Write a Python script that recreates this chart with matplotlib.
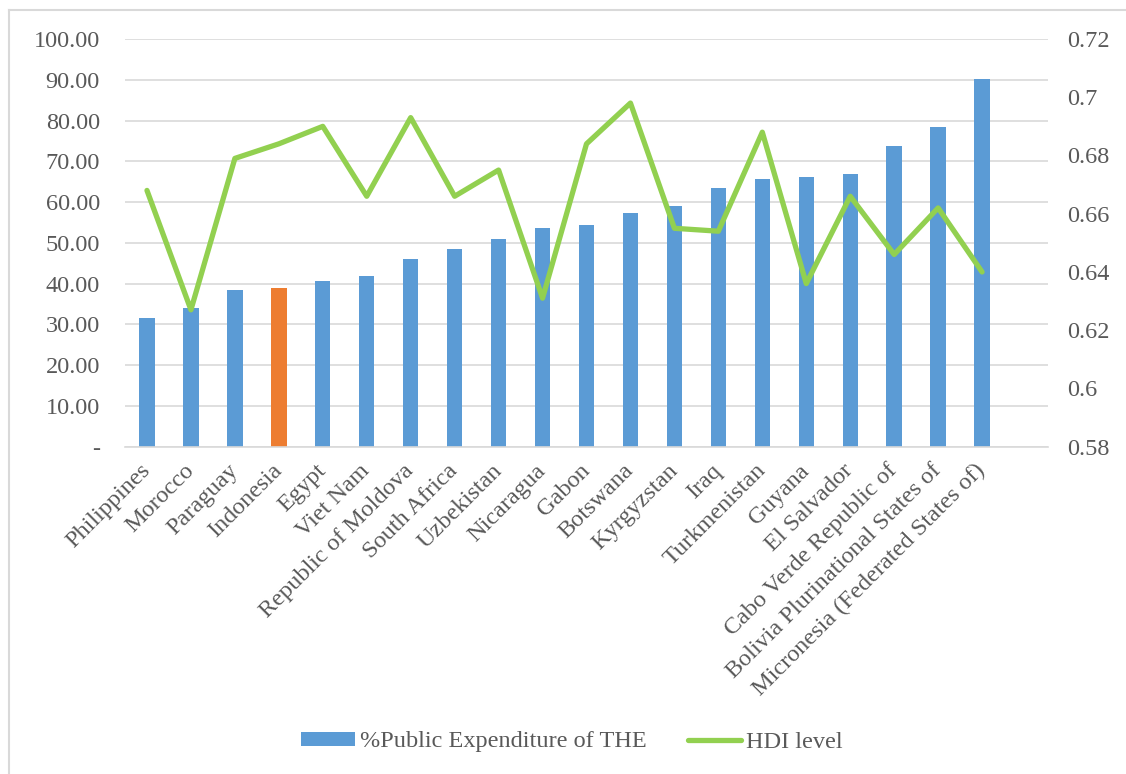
import matplotlib
matplotlib.use('Agg')
import matplotlib.pyplot as plt
from matplotlib.lines import Line2D
import numpy as np

plt.rcParams['font.family'] = ['Liberation Serif', 'DejaVu Serif']

countries = ['Philippines', 'Morocco', 'Paraguay', 'Indonesia', 'Egypt', 'Viet Nam',
             'Republic of Moldova', 'South Africa', 'Uzbekistan', 'Nicaragua', 'Gabon',
             'Botswana', 'Kyrgyzstan', 'Iraq', 'Turkmenistan', 'Guyana', 'El Salvador',
             'Cabo Verde Republic of', 'Bolivia Plurinational States of',
             'Micronesia (Federated States of)']
public_exp = [31.6, 33.9, 38.5, 39.0, 40.6, 41.9, 46.0, 48.5, 51.0, 53.7, 54.4,
              57.2, 59.1, 63.5, 65.6, 66.2, 66.8, 73.8, 78.5, 90.3]
hdi = [0.668, 0.627, 0.679, 0.684, 0.690, 0.666, 0.693, 0.666, 0.675, 0.631, 0.684,
       0.698, 0.655, 0.654, 0.688, 0.636, 0.666, 0.646, 0.662, 0.640]
highlight = 'Indonesia'

left_ticks = [0, 10, 20, 30, 40, 50, 60, 70, 80, 90, 100]
right_ticks = [0.58, 0.60, 0.62, 0.64, 0.66, 0.68, 0.70, 0.72]

blue = '#5B9BD5'
orange = '#ED7D31'
green = '#92D050'
grid_c = '#D9D9D9'
txt_c = '#595959'
fs = 17.5

fig = plt.figure(figsize=(11.26, 7.74), dpi=100)
ax = fig.add_axes([125/1126, 1 - 446.7/774, (1048 - 125)/1126, (446.7 - 39)/774])

x = np.arange(len(countries))
colors = [orange if c == highlight else blue for c in countries]
bars = ax.bar(x, public_exp, width=0.35, color=colors, zorder=2,
              label='%Public Expenditure of THE')

# one empty slot after the last country
ax.set_xlim(-0.5, len(countries) + 0.5)
ax.set_ylim(0, 100)
ax.set_yticks(left_ticks)
ax.set_yticklabels(['-' if v == 0 else f'{v:.2f}' for v in left_ticks])
ax.yaxis.grid(True, color=grid_c, linewidth=1.2, zorder=0)
ax.set_axisbelow(True)
for s in ['top', 'right', 'left']:
    ax.spines[s].set_visible(False)
ax.spines['bottom'].set_color(grid_c)
ax.spines['bottom'].set_linewidth(1.2)
ax.tick_params(axis='y', length=0, pad=18, labelsize=fs, labelcolor=txt_c)
ax.tick_params(axis='x', length=0, pad=15, labelsize=fs, labelcolor=txt_c)
ax.set_xticks(x)
ax.set_xticklabels(countries, rotation=45, ha='right', va='center',
                   rotation_mode='anchor')

ax2 = ax.twinx()
line, = ax2.plot(x, hdi, color=green, linewidth=3.8, solid_joinstyle='round',
                 solid_capstyle='round', label='HDI level', zorder=3)
ax2.set_ylim(0.58, 0.72)
ax2.set_yticks(right_ticks)
ax2.set_yticklabels([f'{v:g}' for v in right_ticks])
for s in ['top', 'right', 'left', 'bottom']:
    ax2.spines[s].set_visible(False)
ax2.tick_params(axis='y', length=0, pad=13.7, labelsize=fs, labelcolor=txt_c)

leg = fig.legend([bars, line], ['%Public Expenditure of THE', 'HDI level'],
                 loc='center', bbox_to_anchor=(572/1126, 1 - 742/774), ncol=2,
                 frameon=False, fontsize=fs, handlelength=2.2, handleheight=0.55,
                 handletextpad=0.2, columnspacing=1.7)
for t in leg.get_texts():
    t.set_color(txt_c)

# light chart border along top and left
fig.add_artist(Line2D([9/1126, 1], [1 - 10/774, 1 - 10/774], color=grid_c, linewidth=1.5))
fig.add_artist(Line2D([9/1126, 9/1126], [0, 1 - 10/774], color=grid_c, linewidth=1.5))

fig.savefig('out.png', dpi=100)
